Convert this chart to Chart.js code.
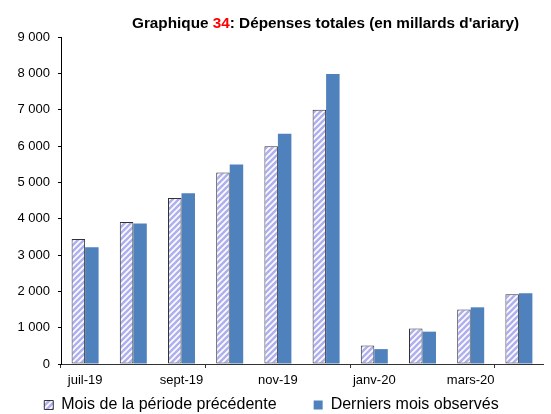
<!DOCTYPE html>
<html>
<head>
<meta charset="utf-8">
<script src="https://cdn.jsdelivr.net/npm/chart.js@4/dist/chart.umd.min.js"></script>
<style>
  html, body { margin: 0; padding: 0; background: #fff; }
  #wrap { width: 551px; height: 414px; }
</style>
</head>
<body>
<div id="wrap"><canvas id="depGraph" width="551" height="414"></canvas></div>
<script>
// monthly data, in billions of ariary
var months = ['juil-19', 'août-19', 'sept-19', 'oct-19', 'nov-19', 'déc-19', 'janv-20', 'févr-20', 'mars-20', 'avr-20']
var prevPeriod = [3440, 3910, 4570, 5270, 5990, 7000, 510, 980, 1500, 1920]
var lastObserved = [3210, 3870, 4700, 5490, 6340, 7980, 410, 890, 1560, 1950]
var yTicks = [0, 1000, 2000, 3000, 4000, 5000, 6000, 7000, 8000, 9000]

Chart.defaults.font.family = 'Arial, "Liberation Sans", sans-serif'
Chart.defaults.color = '#000'

// light diagonal hatch for the previous-period bars
function hatch() {
  var c = document.createElement('canvas')
  c.width = 6; c.height = 6
  var g = c.getContext('2d')
  g.fillStyle = '#fff'
  g.fillRect(0, 0, 6, 6)
  g.strokeStyle = '#b0b0f0'
  g.lineWidth = 2.6
  g.beginPath()
  g.moveTo(-1, 7); g.lineTo(7, -1)
  g.moveTo(-4, 4); g.lineTo(4, -4)
  g.moveTo(2, 10); g.lineTo(10, 2)
  g.stroke()
  return g.createPattern(c, 'repeat')
}

function spaced(v) {
  return String(v).replace(/\B(?=(\d{3})+(?!\d))/g, ' ')
}

// title with the chart number in red
var titlePlugin = {
  id: 'titre',
  afterDraw: function (chart) {
    var g = chart.ctx
    var parts = [['Graphique ', '#000'], ['34', '#ff0000'], [": Dépenses totales (en millards d'ariary)", '#000']]
    g.save()
    g.font = 'bold 15.3px Arial, "Liberation Sans", sans-serif'
    g.textBaseline = 'alphabetic'
    var x = 132
    parts.forEach(function (p) {
      g.fillStyle = p[1]
      g.fillText(p[0], x, 28)
      x += g.measureText(p[0]).width
    })
    g.restore()
  }
}

var ctx = document.getElementById('depGraph')
var chart = new Chart(ctx, {
  type: 'bar',
  data: {
    labels: months,
    datasets: [{
      label: 'Mois de la période précédente',
      data: prevPeriod,
      backgroundColor: hatch(),
      borderColor: '#333',
      borderWidth: 1,
      borderSkipped: false
    }, {
      label: 'Derniers mois observés',
      data: lastObserved,
      backgroundColor: '#4f81bd',
      borderWidth: 0
    }]
  },
  options: {
    responsive: false,
    animation: false,
    categoryPercentage: 0.56,
    barPercentage: 1,
    layout: { padding: { top: 37, right: 8, left: 0, bottom: 0 } },
    scales: {
      x: {
        grid: {
          offset: true,
          drawOnChartArea: false,
          tickLength: 4,
          color: function (c) { return c.index % 3 === 0 ? '#333' : 'rgba(0,0,0,0)' }
        },
        border: { color: '#333', width: 1 },
        ticks: {
          autoSkip: false,
          maxRotation: 0,
          padding: 5,
          font: { size: 13 },
          callback: function (v, i) { return i % 2 === 0 ? months[i] : '' }
        },
        afterFit: function (s) { s.height = 27 }
      },
      y: {
        min: 0,
        max: 9000,
        afterBuildTicks: function (s) { s.ticks = yTicks.map(function (v) { return { value: v } }) },
        grid: { drawOnChartArea: false, tickLength: 3, color: '#000' },
        border: { color: '#000', width: 1 },
        ticks: {
          padding: 8,
          font: { size: 13 },
          callback: function (v) { return spaced(v) }
        },
        afterFit: function (s) { s.width = 61 }
      }
    },
    plugins: {
      title: { display: false },
      tooltip: { enabled: false },
      legend: {
        position: 'bottom',
        maxHeight: 23,
        labels: {
          boxWidth: 9,
          boxHeight: 9,
          padding: 6,
          color: '#000',
          font: { size: 16 },
          generateLabels: function (ch) {
            var items = Chart.defaults.plugins.legend.labels.generateLabels(ch)
            items[0].text = items[0].text + '       '
            return items
          }
        }
      }
    }
  },
  plugins: [titlePlugin]
})
</script>
</body>
</html>
